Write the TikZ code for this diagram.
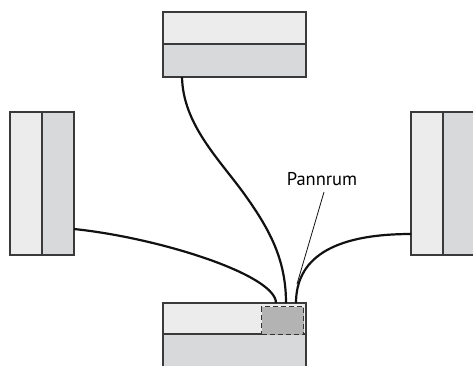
\documentclass[tikz,border=0pt]{standalone}
\usepackage{fontspec}
\setmainfont{PT Sans}
\usetikzlibrary{calc}
\definecolor{lightfill}{HTML}{EBECEB}
\definecolor{darkfill}{HTML}{D8D9DA}
\definecolor{boxline}{HTML}{3A3A3A}
\definecolor{dashcol}{HTML}{333333}
\definecolor{pannfill}{HTML}{B3B3B3}
\definecolor{wirecol}{HTML}{111111}
\tikzset{
  half/.style={draw=boxline, line width=1.2pt, inner sep=0pt, outer sep=0pt, anchor=north west},
  lighthalf/.style={half, fill=lightfill},
  darkhalf/.style={half, fill=darkfill},
  pannbox/.style={draw=dashcol, fill=pannfill, dash pattern=on 5pt off 3pt, line width=1.4pt, inner sep=0pt, anchor=north west, minimum width=42pt, minimum height=28pt},
  wire/.style={draw=wirecol, line width=2.2pt},
  leader/.style={draw=wirecol, line width=0.8pt},
  lbl/.style={font=\fontsize{18.5}{20}\selectfont, inner sep=0pt, anchor=base}
}
\begin{document}
\begin{tikzpicture}[x=1pt,y=-1pt]
\useasboundingbox (0,0) rectangle (473,365);
\clip (0,0) rectangle (473,365);
% top box
\node[lighthalf, minimum width=143pt, minimum height=32pt] (topL) at (163,12) {};
\node[darkhalf, minimum width=143pt, minimum height=33pt] (topD) at (163,44) {};
% left box
\node[lighthalf, minimum width=32pt, minimum height=143pt] (leftL) at (10,112) {};
\node[darkhalf, minimum width=32pt, minimum height=143pt] (leftD) at (42,112) {};
% right box
\node[lighthalf, minimum width=32pt, minimum height=143pt] (rightL) at (411,112) {};
\node[darkhalf, minimum width=34pt, minimum height=143pt] (rightD) at (443,112) {};
% bottom box
\node[lighthalf, minimum width=143pt, minimum height=31pt] (botL) at (163,303) {};
\node[darkhalf, minimum width=143pt, minimum height=40pt] (botD) at (163,334) {};
\node[pannbox] (pann) at (261,306) {};
% wire end points
\coordinate (t1) at ($(topD.south west)+(19,0)$);
\coordinate (b1) at ($(botL.north west)+(123,0)$);
\coordinate (l1) at ($(leftD.north east)+(0,117)$);
\coordinate (b2) at ($(botL.north west)+(113,0)$);
\coordinate (r1) at ($(rightL.north west)+(0,122)$);
\coordinate (b3) at ($(botL.north west)+(133,0)$);
% wires
\draw[wire] (t1) .. controls (183,125) and (220,160) .. (245,195)
                 .. controls (270,230) and (286,260) .. (b1);
\draw[wire] (l1) .. controls (160,238) and (276,275) .. (b2);
\draw[wire] (r1) .. controls (330,234) and (296,260) .. (b3);
% label
\node[lbl] (label) at (322,185.5) {Pannrum};
\coordinate (ltip) at (297,284);
\draw[leader] ([shift={(2,6.5)}]label.base) -- (ltip);
\end{tikzpicture}
\end{document}
